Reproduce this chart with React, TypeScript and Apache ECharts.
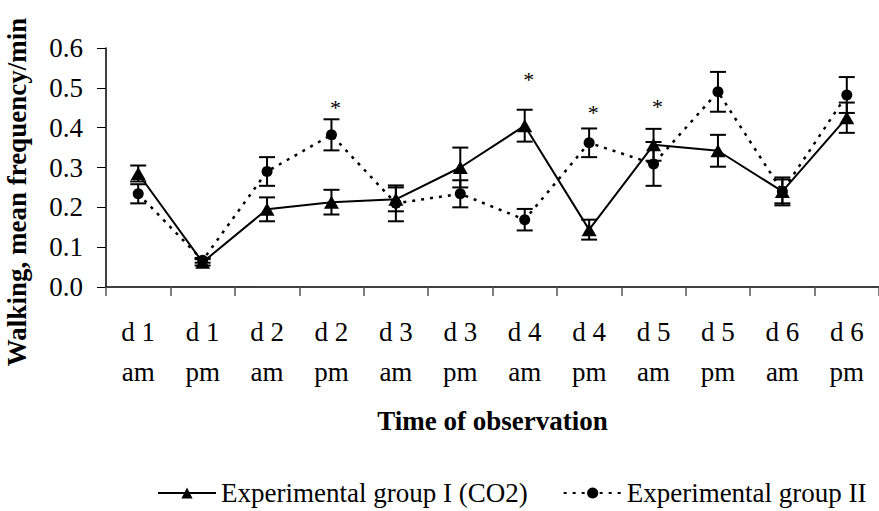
import React, { useEffect, useRef } from "react";
import * as echarts from "echarts";

const dayLabels = ["d 1", "d 1", "d 2", "d 2", "d 3", "d 3", "d 4", "d 4", "d 5", "d 5", "d 6", "d 6"];
const periodLabels = ["am", "pm", "am", "pm", "am", "pm", "am", "pm", "am", "pm", "am", "pm"];

const groupI = [0.285, 0.062, 0.195, 0.213, 0.22, 0.3, 0.405, 0.144, 0.357, 0.342, 0.24, 0.425];
const groupIErr = [0.02, 0.008, 0.03, 0.031, 0.03, 0.05, 0.04, 0.025, 0.04, 0.04, 0.03, 0.038];
const groupII = [0.234, 0.067, 0.29, 0.382, 0.21, 0.234, 0.169, 0.362, 0.309, 0.49, 0.24, 0.482];
const groupIIErr = [0.024, 0.006, 0.036, 0.039, 0.045, 0.034, 0.027, 0.036, 0.055, 0.05, 0.035, 0.045];

const starIndex = [3, 6, 7, 8];
const starValue = [0.462, 0.534, 0.451, 0.466];

const yTicks = ["0.0", "0.1", "0.2", "0.3", "0.4", "0.5", "0.6"];

const nameI = "Experimental group I (CO2)";
const nameII = "Experimental group II";
const FONT = "'Liberation Serif', 'Times New Roman', serif";
const FS = 27;

export default function App() {
  const ref = useRef<HTMLDivElement>(null);
  useEffect(() => {
    if (!ref.current) return;
    const chart = echarts.init(ref.current, undefined, { renderer: "svg" });
    const categories = dayLabels.map((d, i) => d + "\n" + periodLabels[i]);

    const errData = (vals: number[], errs: number[]) =>
      vals.map((v, i) => [i, v - errs[i], v + errs[i]]);

    const errRender = (params: any, api: any) => {
      const lo = api.coord([api.value(0), api.value(1)]);
      const hi = api.coord([api.value(0), api.value(2)]);
      const x = lo[0];
      const w = 8;
      const st = { stroke: "#000", lineWidth: 2 };
      return {
        type: "group",
        children: [
          { type: "line", shape: { x1: x, y1: lo[1], x2: x, y2: hi[1] }, style: st },
          { type: "line", shape: { x1: x - w, y1: lo[1], x2: x + w, y2: lo[1] }, style: st },
          { type: "line", shape: { x1: x - w, y1: hi[1], x2: x + w, y2: hi[1] }, style: st },
        ],
      };
    };

    chart.setOption({
      animation: false,
      backgroundColor: "#fff",
      textStyle: { fontFamily: FONT, color: "#000" },
      grid: { left: 106, top: 48, width: 781, height: 239, containLabel: false },
      legend: {
        left: 152,
        top: 473,
        itemWidth: 58,
        itemHeight: 14,
        itemGap: 35,
        data: [nameI, nameII],
        textStyle: { fontFamily: FONT, fontSize: FS, color: "#000", lineHeight: 30 },
      },
      xAxis: {
        type: "category",
        data: categories,
        boundaryGap: true,
        axisLine: { lineStyle: { color: "#000", width: 1.5 } },
        axisTick: { show: true, inside: false, length: 9, lineStyle: { color: "#555", width: 1.5 } },
        axisLabel: {
          interval: 0,
          margin: 25,
          fontFamily: FONT,
          fontSize: FS,
          lineHeight: 40,
          color: "#000",
        },
        name: "Time of observation",
        nameLocation: "middle",
        nameGap: 120,
        nameTextStyle: { fontFamily: FONT, fontSize: FS, fontWeight: "bold", color: "#000" },
      },
      yAxis: {
        type: "value",
        min: 0,
        max: 0.6,
        interval: 0.1,
        splitLine: { show: false },
        axisLine: { show: true, lineStyle: { color: "#000", width: 1.5 } },
        axisTick: { show: true, inside: false, length: 9, lineStyle: { color: "#000", width: 1 } },
        axisLabel: {
          margin: 23,
          fontFamily: FONT,
          fontSize: FS,
          color: "#000",
          formatter: (v: number) => yTicks[Math.round(v * 10)] ?? v.toFixed(1),
        },
      },
      graphic: [
        {
          type: "text",
          x: 17,
          y: 192,
          rotation: Math.PI / 2,
          style: {
            text: "Walking, mean frequency/min",
            font: "bold " + FS + "px " + FONT,
            fill: "#000",
            textAlign: "center",
            textVerticalAlign: "middle",
          },
        },
      ],
      series: [
        {
          name: nameI,
          type: "line",
          data: groupI,
          symbol: "triangle",
          symbolSize: [15, 13],
          itemStyle: { color: "#000" },
          lineStyle: { color: "#000", width: 2, type: "solid" },
          z: 3,
        },
        {
          name: nameII,
          type: "line",
          data: groupII,
          symbol: "circle",
          symbolSize: 11,
          itemStyle: { color: "#000" },
          lineStyle: { color: "#000", width: 2.5, type: [3, 6] },
          z: 4,
        },
        {
          type: "custom",
          name: "errI",
          data: errData(groupI, groupIErr),
          renderItem: errRender,
          z: 5,
          silent: true,
        },
        {
          type: "custom",
          name: "errII",
          data: errData(groupII, groupIIErr),
          renderItem: errRender,
          z: 5,
          silent: true,
        },
        {
          type: "custom",
          name: "stars",
          data: starIndex.map((idx, i) => [idx, starValue[i]]),
          renderItem: (params: any, api: any) => {
            const p = api.coord([api.value(0), api.value(1)]);
            return {
              type: "text",
              x: p[0] + 4,
              y: p[1] + 5,
              style: {
                text: "*",
                font: "22px " + FONT,
                fill: "#000",
                textAlign: "center",
                textVerticalAlign: "middle",
              },
            };
          },
          z: 6,
          silent: true,
        },
      ],
    });
    return () => chart.dispose();
  }, []);
  return (
    <div
      ref={ref}
      style={{ position: "fixed", left: 0, top: 0, width: 879, height: 511 }}
    />
  );
}
